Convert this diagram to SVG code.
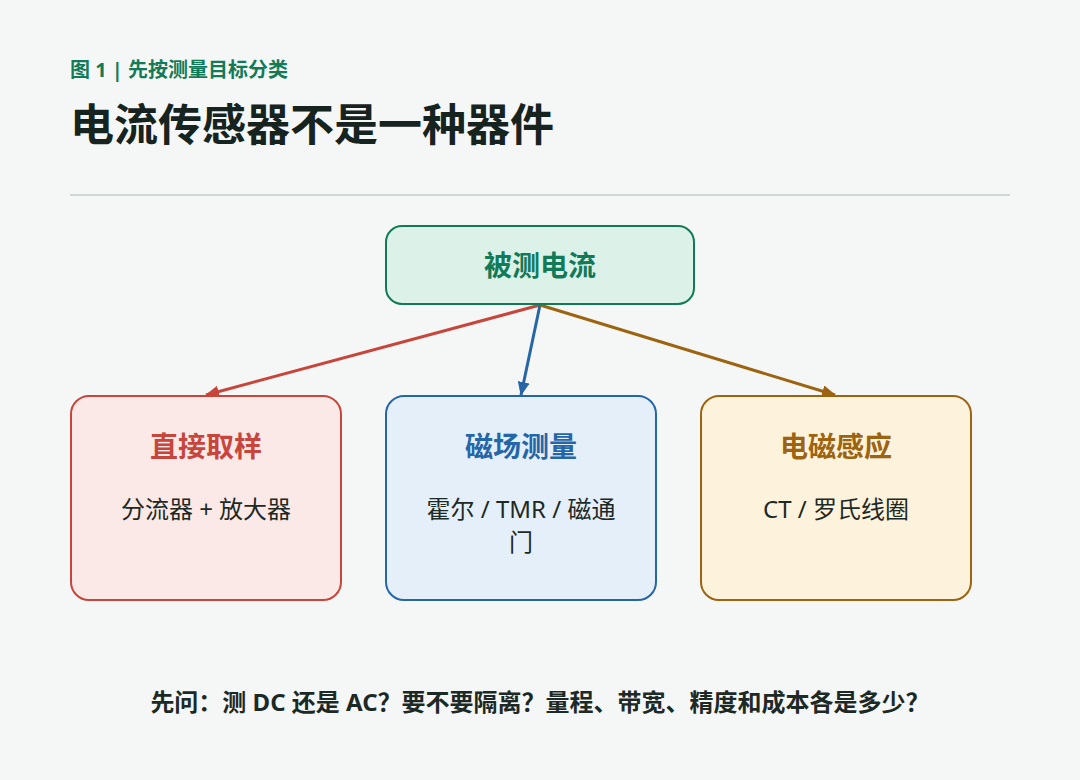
<svg xmlns="http://www.w3.org/2000/svg" width="1080" height="780" viewBox="0 0 1080 780">
  <defs>
    <marker id="ah-red" viewBox="0 0 14 12" refX="13" refY="6" markerWidth="14" markerHeight="12" markerUnits="userSpaceOnUse" orient="auto">
      <path d="M0,0 L14,6 L0,12 Z" fill="#c8453c"/>
    </marker>
    <marker id="ah-blue" viewBox="0 0 14 12" refX="13" refY="6" markerWidth="14" markerHeight="12" markerUnits="userSpaceOnUse" orient="auto">
      <path d="M0,0 L14,6 L0,12 Z" fill="#2566a8"/>
    </marker>
    <marker id="ah-brown" viewBox="0 0 14 12" refX="13" refY="6" markerWidth="14" markerHeight="12" markerUnits="userSpaceOnUse" orient="auto">
      <path d="M0,0 L14,6 L0,12 Z" fill="#9c6410"/>
    </marker>
  </defs>
  <style>
    text { font-family: "Noto Sans", "Noto Sans CJK SC", sans-serif; }
    .sub { font-size: 20px; font-weight: 700; fill: #137a57; }
    .title { font-size: 44px; font-weight: 700; fill: #16231e; }
    .ntitle { font-size: 28px; font-weight: 700; text-anchor: middle; }
    .body { font-size: 24px; font-weight: 400; fill: #1d2925; text-anchor: middle; }
    .foot { font-size: 24px; font-weight: 700; fill: #1d2925; text-anchor: middle; }
    .box { stroke-width: 2; }
    .conn { fill: none; stroke-width: 3; }
  </style>
  <rect x="0" y="0" width="1080" height="780" fill="#f5f7f6"/>

  <g id="header">
    <text class="sub" x="70" y="77">图 1 | 先按测量目标分类</text>
    <text class="title" x="70" y="141">电流传感器不是一种器件</text>
    <line x1="70" y1="195" x2="1010" y2="195" stroke="#cfd8d5" stroke-width="2"/>
  </g>

  <g id="connectors">
    <line class="conn" x1="540" y1="305" x2="206" y2="395" stroke="#c8453c" marker-end="url(#ah-red)"/>
    <line class="conn" x1="540" y1="305" x2="521" y2="395" stroke="#2566a8" marker-end="url(#ah-blue)"/>
    <line class="conn" x1="540" y1="305" x2="835" y2="395" stroke="#9c6410" marker-end="url(#ah-brown)"/>
  </g>

  <g id="node-current">
    <rect class="box" x="386" y="226" width="308" height="78" rx="16" fill="#dcf2e9" stroke="#137a57"/>
    <text class="ntitle" x="540" y="276" fill="#137a57">被测电流</text>
  </g>

  <g id="node-direct">
    <rect class="box" x="71" y="396" width="270" height="204" rx="18" fill="#fbe9e7" stroke="#c8453c"/>
    <text class="ntitle" x="206" y="457" fill="#c8453c">直接取样</text>
    <text class="body" x="206" y="518">分流器 + 放大器</text>
  </g>

  <g id="node-magnetic">
    <rect class="box" x="386" y="396" width="270" height="204" rx="18" fill="#e5eff9" stroke="#2566a8"/>
    <text class="ntitle" x="521" y="457" fill="#2566a8">磁场测量</text>
    <text class="body" x="521" y="518">霍尔 / TMR / 磁通</text>
    <text class="body" x="521" y="551">门</text>
  </g>

  <g id="node-induction">
    <rect class="box" x="701" y="396" width="270" height="204" rx="18" fill="#fdf3dc" stroke="#9c6410"/>
    <text class="ntitle" x="836" y="457" fill="#9c6410">电磁感应</text>
    <text class="body" x="836" y="518">CT / 罗氏线圈</text>
  </g>

  <g id="footer">
    <text class="foot" x="540" y="711">先问：测 DC 还是 AC？要不要隔离？量程、带宽、精度和成本各是多少？</text>
  </g>
</svg>
